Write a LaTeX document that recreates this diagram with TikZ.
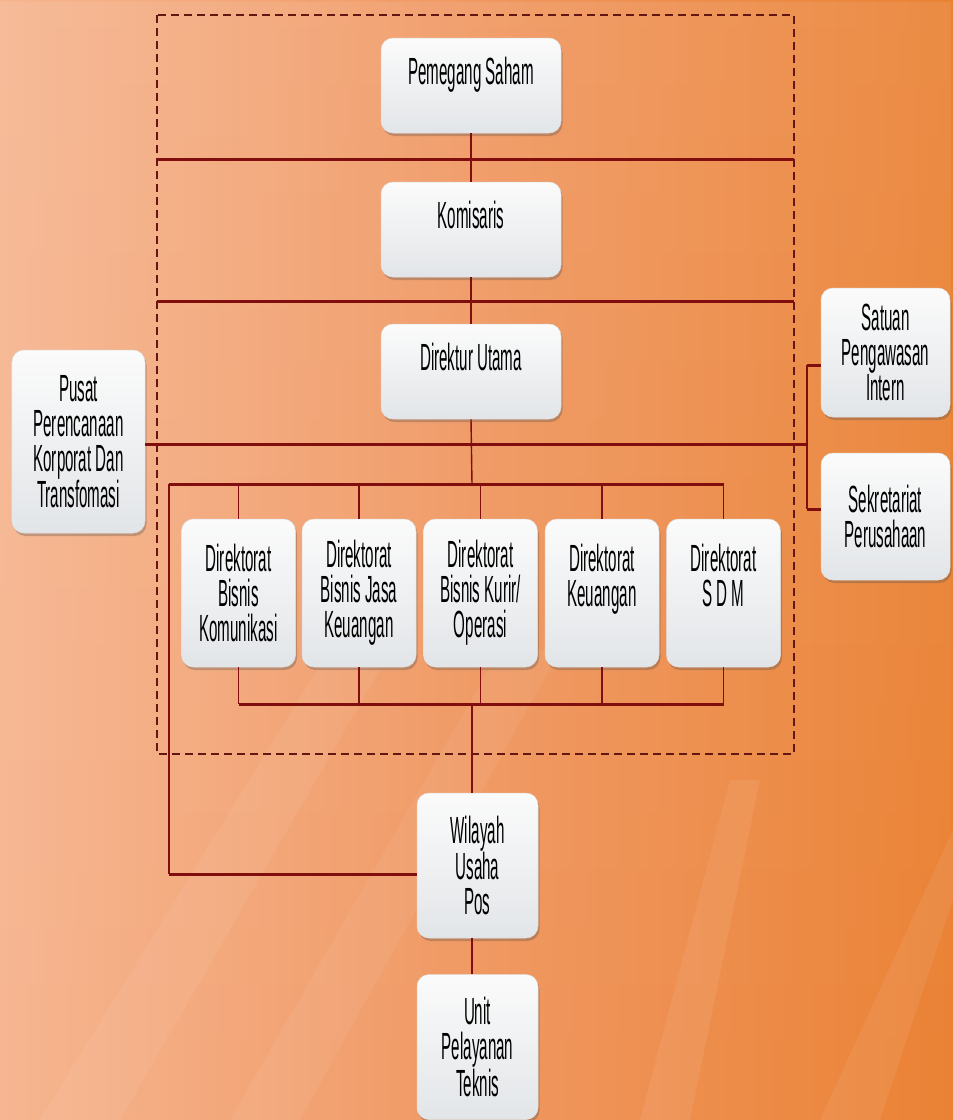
\documentclass[tikz,border=0pt]{standalone}
\usepackage{fontspec}
\setmainfont[FakeStretch=0.40]{Liberation Sans}
\usetikzlibrary{shadows,fadings}
\definecolor{bgl}{RGB}{246,182,145}
\definecolor{bgm}{RGB}{240,152,98}
\definecolor{bgr}{RGB}{234,130,52}
\definecolor{lnc}{RGB}{128,14,14}
\definecolor{dsh}{RGB}{100,22,18}
\definecolor{bxt}{RGB}{251,251,251}
\definecolor{bxb}{RGB}{226,229,232}
\begin{document}
\begin{tikzpicture}[x=1bp,y=-1bp,
  box/.style={rounded corners=12bp, top color=bxt, bottom color=bxb,
    draw=black!12, line width=0.5bp, align=center, inner sep=0pt,
    font=\fontsize{38}{35}\selectfont,
    drop shadow={shadow xshift=1.5bp, shadow yshift=-3bp, opacity=0.3, fill=black!70}},
  onebox/.style={box, minimum width=180bp, minimum height=95bp, text height=27bp, text depth=30bp},
  dirbox/.style={box, minimum width=114bp, minimum height=148bp},
  sidebox/.style={box, minimum width=129bp, minimum height=129bp},
  lowbox/.style={box, minimum width=121bp, minimum height=145bp},
  bus/.style={draw=lnc, line width=3bp},
  link/.style={draw=lnc, line width=1.4bp},
  midlink/.style={draw=lnc, line width=2bp},
  frame/.style={draw=dsh, line width=1.8bp, dash pattern=on 8bp off 5bp}
]
\useasboundingbox (0,0) rectangle (953,1120);
% background
\shade[left color=bgl, right color=bgr, middle color=bgm] (0,0) rectangle (953,1120);
\fill[white, opacity=0.08, path fading=south] (0,0) rectangle (953,1120);
\fill[white, opacity=0.06] (40,1120) -- (120,1120) -- (420,600) -- (360,600) -- cycle;
\fill[white, opacity=0.06] (230,1120) -- (300,1120) -- (560,650) -- (500,650) -- cycle;
\fill[white, opacity=0.07] (640,1120) -- (690,1120) -- (760,780) -- (730,780) -- cycle;
\fill[white, opacity=0.07] (820,1120) -- (880,1120) -- (953,900) -- (953,830) -- cycle;

% dashed frame
\coordinate (fTL) at (157,15);
\coordinate (fBR) at (794,754);
\draw[frame] (fTL) rectangle (fBR);

% nodes
\node[onebox] (ps) at (471,85.5) {Pemegang Saham};
\node[onebox] (ko) at (471,229.5) {Komisaris};
\node[onebox] (du) at (471,371.5) {Direktur Utama};
\node[box, minimum width=133bp, minimum height=183bp] (pu) at (78.5,441.5) {Pusat\\Perencanaan\\Korporat Dan\\Transfomasi};
\node[sidebox] (sp) at (885.5,352.5) {Satuan\\Pengawasan\\Intern};
\node[sidebox, minimum height=127bp] (se) at (885.5,516.5) {Sekretariat\\Perusahaan};
\node[dirbox] (d1) at (238.5,593) {Direktorat\\Bisnis\\Komunikasi};
\node[dirbox] (d2) at (359,593) {Direktorat\\Bisnis Jasa\\Keuangan};
\node[dirbox] (d3) at (480.5,593) {Direktorat\\Bisnis Kurir/\\Operasi};
\node[dirbox] (d4) at (602,593) {Direktorat\\Keuangan\\\mbox{}};
\node[dirbox] (d5) at (723.5,593) {Direktorat\\S D M\\\mbox{}};
\node[lowbox] (wu) at (477.5,865.5) {Wilayah\\Usaha\\Pos};
\node[lowbox] (un) at (477.5,1047) {Unit\\Pelayanan\\Teknis};

% coordinates
\coordinate (h1l) at (157,159);
\coordinate (h1r) at (794,159);
\coordinate (h2l) at (157,301);
\coordinate (h2r) at (794,301);
\coordinate (rb) at (807,444);
\coordinate (rt) at (807,365);
\coordinate (rbt) at (807,509);
\coordinate (tl) at (169,484);
\coordinate (tb) at (472,484);
\coordinate (bb) at (472,704);
\coordinate (bl) at (169,874);

% connectors
\draw[bus] (h1l) -- (h1r);
\draw[bus] (h2l) -- (h2r);
\draw[link] (ps.south) -- (ko.north);
\draw[link] (ko.south) -- (du.north);
\draw[link] (du.south) -- (tb);
\draw[bus] (pu.east |- rb) -- (rb);
\draw[midlink] (rt) -- (rbt);
\draw[bus] (rt) -- (sp.west |- rt);
\draw[bus] (rbt) -- (se.west |- rbt);
\draw[bus] (tl) -- (d5.north |- tl);
\foreach \i in {1,...,5} {
  \draw[link] (d\i.north |- tl) -- (d\i.north);
  \draw[link] (d\i.south) -- (d\i.south |- bb);
}
\draw[bus] (d1.south |- bb) -- (d5.south |- bb);
\draw[midlink] (tl) -- (bl);
\draw[bus] (bl) -- (wu.west |- bl);
\draw[link] (bb) -- (bb |- wu.north);
\draw[link] (wu.south -| bb) -- (un.north -| bb);
\end{tikzpicture}
\end{document}
